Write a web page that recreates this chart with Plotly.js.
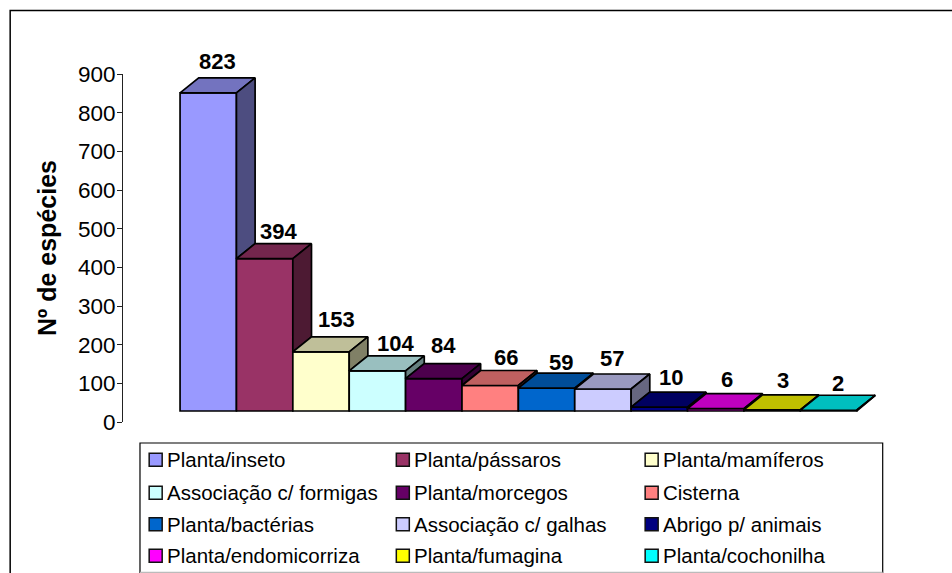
<!DOCTYPE html>
<html><head><meta charset="utf-8">
<script src="https://cdn.plot.ly/plotly-3.0.1.min.js"></script>
<style>html,body{margin:0;padding:0;background:#fff}#c{width:952px;height:573px}</style></head>
<body><div id="c"></div>
<script>
const categories = ["Planta/inseto","Planta/pássaros","Planta/mamíferos","Associação c/ formigas","Planta/morcegos","Cisterna","Planta/bactérias","Associação c/ galhas","Abrigo p/ animais","Planta/endomicorriza","Planta/fumagina","Planta/cochonilha"];
const values = [823,394,153,104,84,66,59,57,10,6,3,2];
const frontColors = ["#9999FF","#993366","#FFFFCC","#CCFFFF","#660066","#FF8080","#0066CC","#CCCCFF","#000080","#FF00FF","#FFFF00","#00FFFF"];
const tickValues = [0,100,200,300,400,500,600,700,800,900];
const labelShiftX = [0,5,6,9,0,6,5,0,2,2,2,0];
const labelShiftY = [16,12,17,12,18,13,11,15,15,14,14,12];

const W=952,H=573,L=122.5,R=880,T=74,B=422;
const pxX=(L-179.6)/56.42-0.5, xMax=(R-179.6)/56.42-0.5;
const floorShift=28.4, depthY=38.8, depthX=0.331;
const px=v=>(v-L)/(R-L), py=v=>(B-v)/(B-T);

function shade(hex,f){
  const n=parseInt(hex.slice(1),16);
  const c=[(n>>16)&255,(n>>8)&255,n&255].map(v=>Math.round(v*f));
  return `rgb(${c[0]},${c[1]},${c[2]})`;
}
const edge={color:"#000",width:1.7};
const traces=[{
  type:"bar",x:values.map((_,i)=>i),y:values,base:floorShift,width:1,
  marker:{color:frontColors,line:{color:"#000",width:1.7}},
  showlegend:false,hoverinfo:"skip"
}];
values.forEach((v,i)=>{
  const top=v+floorShift, low=(i+1<values.length?values[i+1]:0)+floorShift;
  const xl=i-0.5,xr=i+0.5;
  traces.push({type:"scatter",mode:"lines",fill:"toself",fillcolor:shade(frontColors[i],0.75),line:edge,
    x:[xl,xl+depthX,xr+depthX,xr,xl],y:[top,top+depthY,top+depthY,top,top],showlegend:false,hoverinfo:"skip"});
  traces.push({type:"scatter",mode:"lines",fill:"toself",fillcolor:shade(frontColors[i],0.5),line:edge,
    x:[xr,xr+depthX,xr+depthX,xr,xr],y:[top,top+depthY,low+depthY,low,top],showlegend:false,hoverinfo:"skip"});
});

const annotations=values.map((v,i)=>({
  x:i+depthX/2,y:v+floorShift+depthY,xref:"x",yref:"y",text:String(v),showarrow:false,
  xanchor:"center",yanchor:"middle",xshift:labelShiftX[i],yshift:labelShiftY[i],
  font:{family:"Liberation Sans",size:22,color:"#000",weight:700}
}));
const shapes=[
  {type:"rect",xref:"paper",yref:"paper",x0:px(9.6),x1:px(960),y0:py(590),y1:py(10.6),line:{color:"#000",width:1.5},fillcolor:"rgba(0,0,0,0)",layer:"below"},
  {type:"rect",xref:"paper",yref:"paper",x0:px(139.5),x1:px(882.7),y0:py(590),y1:py(443),line:{color:"#000",width:1.2},fillcolor:"#fff"},
  {type:"line",xref:"paper",yref:"paper",x0:px(139.5),x1:px(882.7),y0:py(572.4),y1:py(572.4),line:{color:"#bbb",width:1.2}}
];
const colX=[148.7,396,645], rowY=[459.7,492.7,524.3,555.7];
categories.forEach((c,i)=>{
  const cx=colX[i%3], cy=rowY[Math.floor(i/3)];
  shapes.push({type:"rect",xref:"paper",yref:"paper",
    x0:px(cx),x1:px(cx+13),y0:py(cy+6.5),y1:py(cy-6.5),
    line:{color:"#111",width:1.5},fillcolor:frontColors[i]});
  annotations.push({xref:"paper",yref:"paper",x:px(cx+16),y:py(cy),text:c,showarrow:false,
    xanchor:"left",yanchor:"middle",font:{family:"Liberation Sans",size:20.5,color:"#000"}});
});

Plotly.newPlot("c",traces,{
  width:W,height:H,paper_bgcolor:"#fff",plot_bgcolor:"#fff",showlegend:false,
  margin:{l:L,r:W-R,t:T,b:H-B,pad:0},bargap:0,
  xaxis:{visible:false,range:[pxX,xMax],fixedrange:true},
  yaxis:{range:[0,900],tickvals:tickValues,ticks:"outside",ticklen:5,tickcolor:"#222",tickwidth:1,showline:true,linecolor:"#222",linewidth:1,showgrid:false,zeroline:false,
    ticklabelstandoff:-3,
    tickfont:{family:"Liberation Sans",size:22.5,color:"#000"},
    title:{text:"Nº de espécies",font:{family:"Liberation Sans",size:25,color:"#000",weight:700},standoff:14}},
  shapes,annotations
},{staticPlot:true,displayModeBar:false});
</script></body></html>
